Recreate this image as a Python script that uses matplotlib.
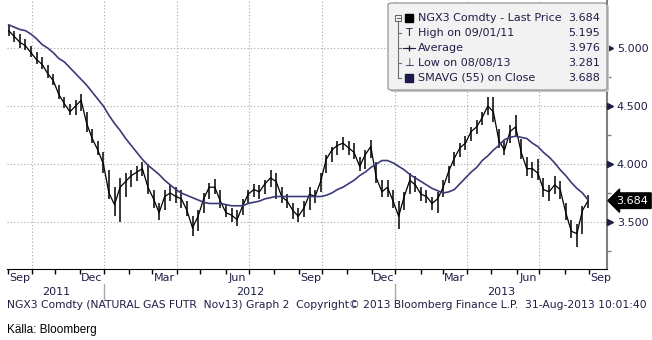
import numpy as np
import pandas as pd
import matplotlib
matplotlib.use("Agg")
import matplotlib.pyplot as plt
from matplotlib.patches import FancyBboxPatch, Rectangle
from matplotlib.lines import Line2D

# weekly readings (Friday), NGX3 natural gas future
weeks = pd.date_range("2011-09-02", "2013-08-30", freq="W-FRI")

close = [5.15, 5.10, 5.05, 5.02, 4.96, 4.90, 4.86, 4.78, 4.72, 4.60,
         4.52, 4.45, 4.50, 4.55, 4.35, 4.22, 4.12, 4.00, 3.75, 3.65,
         3.80, 3.85, 3.90, 3.93, 3.96, 3.80, 3.70, 3.58, 3.72, 3.75,
         3.72, 3.70, 3.60, 3.45, 3.55, 3.70, 3.80, 3.80, 3.68, 3.58,
         3.56, 3.52, 3.64, 3.74, 3.78, 3.76, 3.83, 3.88, 3.85, 3.72,
         3.68, 3.60, 3.55, 3.62, 3.74, 3.72, 3.85, 4.04, 4.12, 4.16,
         4.18, 4.14, 4.10, 3.98, 4.08, 4.15, 3.88, 3.76, 3.80, 3.68,
         3.55, 3.72, 3.86, 3.82, 3.74, 3.72, 3.66, 3.70, 3.80, 3.94,
         4.05, 4.14, 4.18, 4.28, 4.32, 4.40, 4.50, 4.45, 4.20, 4.12,
         4.28, 4.32, 4.10, 3.96, 3.96, 3.92, 3.78, 3.76, 3.82, 3.78,
         3.58, 3.42, 3.40, 3.60, 3.684]
high = [5.195, 5.15, 5.12, 5.08, 5.02, 4.97, 4.92, 4.85, 4.78, 4.68,
        4.58, 4.52, 4.55, 4.60, 4.45, 4.30, 4.20, 4.10, 3.95, 3.80,
        3.88, 3.92, 3.95, 3.98, 4.02, 4.00, 3.78, 3.66, 3.78, 3.82,
        3.80, 3.78, 3.68, 3.55, 3.60, 3.75, 3.84, 3.87, 3.78, 3.65,
        3.62, 3.60, 3.70, 3.78, 3.83, 3.82, 3.86, 3.95, 3.92, 3.80,
        3.74, 3.66, 3.62, 3.68, 3.80, 3.78, 3.92, 4.08, 4.15, 4.20,
        4.23, 4.20, 4.18, 4.06, 4.12, 4.21, 4.02, 3.86, 3.86, 3.78,
        3.68, 3.76, 3.92, 3.90, 3.80, 3.78, 3.72, 3.76, 3.86, 3.98,
        4.10, 4.18, 4.24, 4.32, 4.38, 4.45, 4.58, 4.58, 4.30, 4.20,
        4.34, 4.42, 4.22, 4.06, 4.02, 4.04, 3.88, 3.82, 3.90, 3.85,
        3.66, 3.52, 3.48, 3.64, 3.73]
low = [5.10, 5.05, 5.00, 4.98, 4.92, 4.86, 4.82, 4.74, 4.68, 4.56,
       4.48, 4.42, 4.42, 4.46, 4.28, 4.18, 4.08, 3.92, 3.70, 3.55,
       3.50, 3.72, 3.80, 3.85, 3.90, 3.74, 3.62, 3.52, 3.60, 3.68,
       3.66, 3.62, 3.55, 3.38, 3.42, 3.58, 3.70, 3.74, 3.62, 3.54,
       3.50, 3.47, 3.56, 3.66, 3.72, 3.70, 3.74, 3.80, 3.70, 3.66,
       3.62, 3.53, 3.50, 3.54, 3.60, 3.66, 3.76, 3.92, 4.02, 4.08,
       4.12, 4.08, 4.04, 3.94, 3.96, 4.05, 3.84, 3.72, 3.72, 3.62,
       3.44, 3.60, 3.74, 3.76, 3.68, 3.66, 3.60, 3.58, 3.72, 3.84,
       3.98, 4.06, 4.12, 4.20, 4.26, 4.34, 4.42, 4.36, 4.14, 4.08,
       4.18, 4.24, 4.04, 3.90, 3.88, 3.86, 3.72, 3.68, 3.74, 3.70,
       3.52, 3.36, 3.281, 3.40, 3.62]
smavg = [5.20, 5.18, 5.16, 5.15, 5.12, 5.08, 5.03, 5.00, 4.96, 4.91,
         4.88, 4.83, 4.78, 4.73, 4.68, 4.62, 4.56, 4.50, 4.42, 4.35,
         4.29, 4.22, 4.16, 4.10, 4.04, 3.99, 3.95, 3.91, 3.86, 3.82,
         3.78, 3.75, 3.73, 3.71, 3.69, 3.67, 3.66, 3.66, 3.66, 3.65,
         3.64, 3.64, 3.64, 3.66, 3.67, 3.68, 3.70, 3.71, 3.72, 3.72,
         3.72, 3.72, 3.72, 3.72, 3.72, 3.72, 3.72, 3.73, 3.75, 3.78,
         3.80, 3.83, 3.86, 3.90, 3.93, 3.97, 4.00, 4.03, 4.03, 4.01,
         3.98, 3.95, 3.91, 3.88, 3.85, 3.82, 3.79, 3.77, 3.75, 3.76,
         3.78, 3.83, 3.88, 3.93, 3.97, 4.03, 4.07, 4.12, 4.16, 4.21,
         4.23, 4.24, 4.23, 4.22, 4.18, 4.15, 4.10, 4.06, 4.01, 3.95,
         3.90, 3.84, 3.79, 3.75, 3.69]

legend_rows = ["NGX3 Comdty - Last Price", "High on 09/01/11", "Average",
               "Low on 08/08/13", "SMAVG (55) on Close"]
legend_vals = ["3.684", "5.195", "3.976", "3.281", "3.688"]
last_price = 3.684
footer = ("NGX3 Comdty (NATURAL GAS FUTR  Nov13) Graph 2  Copyright\u00a9 2013 "
          "Bloomberg Finance L.P.  31-Aug-2013 10:01:40")

yticks = [3.5, 4.0, 4.5, 5.0]
month_labels = {9: "Sep", 12: "Dec", 3: "Mar", 6: "Jun"}
grid_months = [10, 1, 4, 7]

TXT = "#1e1e46"
W, H = 652, 340

def bd(d):
    # trading-day position, like the Bloomberg axis
    return np.busday_count("2011-09-01", pd.Timestamp(d).strftime("%Y-%m-%d"))

def fx(px):
    return px / W

def fy(py):
    return 1 - py / H

x = np.array([bd(d) for d in weeks])

fig = plt.figure(figsize=(W / 100, H / 100), dpi=100)
ax = fig.add_axes([fx(7), 71 / H, 600 / W, 269 / H])
x0, x1 = -0.5, 538
ax.set_xlim(x0, x1)
ax.set_ylim(3.095, 5.414)

# grid
for v in yticks:
    ax.axhline(v, color="#a8a8a8", lw=0.8, ls=(0, (1, 2)), zorder=0)
months = pd.date_range("2011-09-01", "2013-09-01", freq="MS")
for m in months:
    if m.month in grid_months and m > months[0]:
        ax.axvline(bd(m), color="#a8a8a8", lw=0.8, ls=(0, (1, 2)), zorder=0)

# price bars + moving average
ax.vlines(x, low, high, color="black", lw=1.1, zorder=3)
ax.plot(x, close, color="black", lw=0.9, zorder=3)
ax.plot(x, smavg, color="#3a3a7a", lw=1.2, zorder=4)

# spines
for s in ["top", "left"]:
    ax.spines[s].set_visible(False)
ax.spines["bottom"].set_color("black")
ax.spines["right"].set_color("#808080")
ax.spines["right"].set_linewidth(1.5)

# x ticks: month boundaries, labels in the middle of the month
ax.set_xticks([bd(m) for m in months])
ax.set_xticklabels([])
ax.tick_params(axis="x", direction="out", length=3.5, color="black", width=1)
for m in months:
    if m.month in month_labels:
        ax.text(bd(m) + 10.5, 3.095 - 0.08, month_labels[m.month], ha="center",
                va="center", fontsize=8, color=TXT, clip_on=False)

# year labels and separators
px_per = 600 / (x1 - x0)
def xpx(v):
    return 7 + (v - x0) * px_per
jan12, jan13 = xpx(bd("2012-01-02")), xpx(bd("2013-01-01"))
for xs in [jan12, jan13]:
    fig.add_artist(Line2D([fx(xs), fx(xs)], [fy(284), fy(300)], color="#a8a8a8", lw=1))
for lab, a, b in [("2011", 7, jan12), ("2012", jan12, jan13), ("2013", jan13, 607)]:
    fig.text(fx((a + b) / 2), fy(292), lab, ha="center", va="center", fontsize=8, color=TXT)

# y axis on the right with arrow marks
ax.yaxis.tick_right()
ax.set_yticks(yticks)
ax.set_yticklabels(["%.3f" % v for v in yticks], fontsize=8, color=TXT)
ax.set_yticks([3.25, 3.75, 4.25, 4.75], minor=True)
ax.tick_params(axis="y", which="major", length=0, pad=7)
ax.tick_params(axis="y", which="minor", length=3, color="#808080", width=1)
ax.plot([x1 + 2.7] * len(yticks), yticks, ls="none", marker=">", ms=5,
        color=TXT, clip_on=False, zorder=5)

# last price tag
ax.text(x1 + 8.5, last_price, "%.3f" % last_price, fontsize=8, color="white",
        va="center", ha="left", clip_on=False, zorder=6,
        bbox=dict(boxstyle="larrow,pad=0.25", fc="black", ec="black"))

# legend box
fig.add_artist(FancyBboxPatch((fx(390), fy(92)), 219 / W, 87 / H,
                              boxstyle="round,pad=0,rounding_size=0.006",
                              fc="#c8c8c8", ec="none", transform=fig.transFigure, zorder=5))
fig.add_artist(FancyBboxPatch((fx(388), fy(90)), 219 / W, 87 / H,
                              boxstyle="round,pad=0,rounding_size=0.006",
                              fc="#f2f2f2", ec="#8a8a8a", lw=0.8,
                              transform=fig.transFigure, zorder=6))
rows_y = [18, 33, 48, 63, 78]
for lab, val, ry in zip(legend_rows, legend_vals, rows_y):
    fig.text(fx(418), fy(ry), lab, fontsize=8, color=TXT, va="center", ha="left", zorder=8)
    fig.text(fx(600), fy(ry), val, fontsize=8, color=TXT, va="center", ha="right", zorder=8)
# tree lines
fig.add_artist(Line2D([fx(398), fx(398)], [fy(22), fy(78)], color="#707070", lw=0.8, zorder=7))
for ry in rows_y[1:]:
    fig.add_artist(Line2D([fx(398), fx(401)], [fy(ry), fy(ry)], color="#707070", lw=0.8, zorder=7))
fig.add_artist(Rectangle((fx(395), fy(21)), 6 / W, 6 / H, fc="#f2f2f2", ec="#606060",
                         lw=0.7, transform=fig.transFigure, zorder=8))
fig.add_artist(Line2D([fx(396.5), fx(399.5)], [fy(18), fy(18)], color="#606060", lw=0.7, zorder=9))
fig.add_artist(Rectangle((fx(405), fy(22)), 8 / W, 8 / H, fc="black", ec="black",
                         transform=fig.transFigure, zorder=8))
fig.add_artist(Rectangle((fx(405), fy(82)), 8 / W, 8 / H, fc="#1a1a4e", ec="#1a1a4e",
                         transform=fig.transFigure, zorder=8))
fig.text(fx(409), fy(33), "T", fontsize=8, color=TXT, ha="center", va="center", zorder=8)
fig.text(fx(409), fy(63), "\u22a5", fontsize=8, color=TXT, ha="center", va="center", zorder=8)
fig.add_artist(Line2D([fx(403), fx(415)], [fy(48), fy(48)], color=TXT, lw=0.8, zorder=8))
fig.add_artist(Line2D([fx(409)], [fy(48)], color=TXT, marker="+", ms=5, mew=0.9, zorder=8))

# footer, sized to span the same width as in the source chart
ft = fig.text(fx(7), fy(305), footer, fontsize=7.4, color=TXT, ha="left", va="center")
fig.canvas.draw()
wpx = ft.get_window_extent().width
ft.set_fontsize(7.4 * 640 / wpx)
fig.text(fx(7), fy(330), "K\u00e4lla: Bloomberg", fontsize=8.5, color="black",
         ha="left", va="center", family="Liberation Sans")

fig.savefig("out.png", dpi=100)
